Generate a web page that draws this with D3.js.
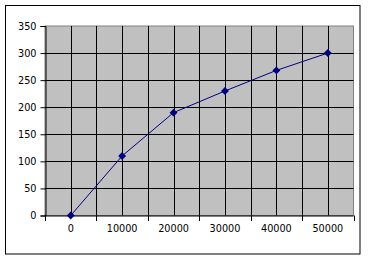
<!DOCTYPE html>
<html><head><meta charset="utf-8">
<script src="https://cdn.jsdelivr.net/npm/d3@7"></script>
<style>body{margin:0;background:#fff}svg{display:block}</style>
</head><body>
<script>
const categories = ["0","10000","20000","30000","40000","50000"];
const values = [0,110,190,230,268,300];
const yTicks = [0,50,100,150,200,250,300,350];

const W=369,H=259;
const m={left:45,top:26,right:353.5,bottom:215.5};
const svg=d3.select("body").append("svg").attr("width",W).attr("height",H);
svg.append("rect").attr("x",5.5).attr("y",5.5).attr("width",354.5).attr("height",248.5)
  .attr("fill","#fff").attr("stroke","#000").attr("stroke-width",1);

const x=d3.scaleBand().domain(categories).range([m.left,m.right]).padding(0);
const y=d3.scaleLinear().domain([0,350]).range([m.bottom,m.top]);

svg.append("rect").attr("x",m.left).attr("y",m.top).attr("width",m.right-m.left).attr("height",m.bottom-m.top)
  .attr("fill","#c0c0c0").attr("stroke","#808080");

const g=svg.append("g");
// horizontal gridlines
g.selectAll(".hg").data(yTicks.filter(d=>d>0&&d<350)).join("line")
  .attr("x1",m.left).attr("x2",m.right).attr("y1",d=>Math.round(y(d))+0.5).attr("y2",d=>Math.round(y(d))+0.5)
  .attr("stroke","#000");
// vertical gridlines at category boundaries and centres
const vx=[];
categories.forEach((c,i)=>{ if(i>0) vx.push(x(c)); vx.push(x(c)+x.bandwidth()/2); });
g.selectAll(".vg").data(vx).join("line")
  .attr("x1",d=>Math.round(d)+0.5).attr("x2",d=>Math.round(d)+0.5).attr("y1",m.top).attr("y2",m.bottom)
  .attr("stroke","#000");

// axes
const yAxis=d3.axisLeft(y).tickValues(yTicks).tickSize(5).tickPadding(4);
const ya=svg.append("g").attr("transform",`translate(${m.left+0.5},0)`).call(yAxis);
ya.selectAll("text").attr("font-family","DejaVu Sans").attr("font-size","9.7px").attr("fill","#000");
ya.select(".domain").attr("stroke","#000");

const xAxis=d3.axisBottom(x).tickSize(0).tickPadding(10);
const xa=svg.append("g").attr("transform",`translate(0,${m.bottom})`).call(xAxis);
xa.select(".domain").remove();
xa.selectAll("text").attr("font-family","DejaVu Sans").attr("font-size","9.7px").attr("fill","#000");
svg.append("line").attr("x1",m.left).attr("x2",m.right).attr("y1",m.bottom+0.5).attr("y2",m.bottom+0.5).attr("stroke","#000");
const bx=categories.map(c=>x(c)).concat([m.right]);
svg.selectAll(".xt").data(bx).join("line")
  .attr("x1",d=>Math.round(d)+0.5).attr("x2",d=>Math.round(d)+0.5).attr("y1",m.bottom).attr("y2",m.bottom+5.5).attr("stroke","#000");

// line
const px=d=>x(d)+x.bandwidth()/2;
const line=d3.line().x((d,i)=>px(categories[i])).y(d=>y(d));
svg.append("path").datum(values).attr("d",line).attr("fill","none").attr("stroke","#000080").attr("stroke-width",1);
svg.selectAll(".pt").data(values).join("path")
  .attr("d",d3.symbol(d3.symbolDiamond2,40))
  .attr("transform",(d,i)=>`translate(${px(categories[i])},${y(d)})`)
  .attr("fill","#000080");
</script>
</body></html>
